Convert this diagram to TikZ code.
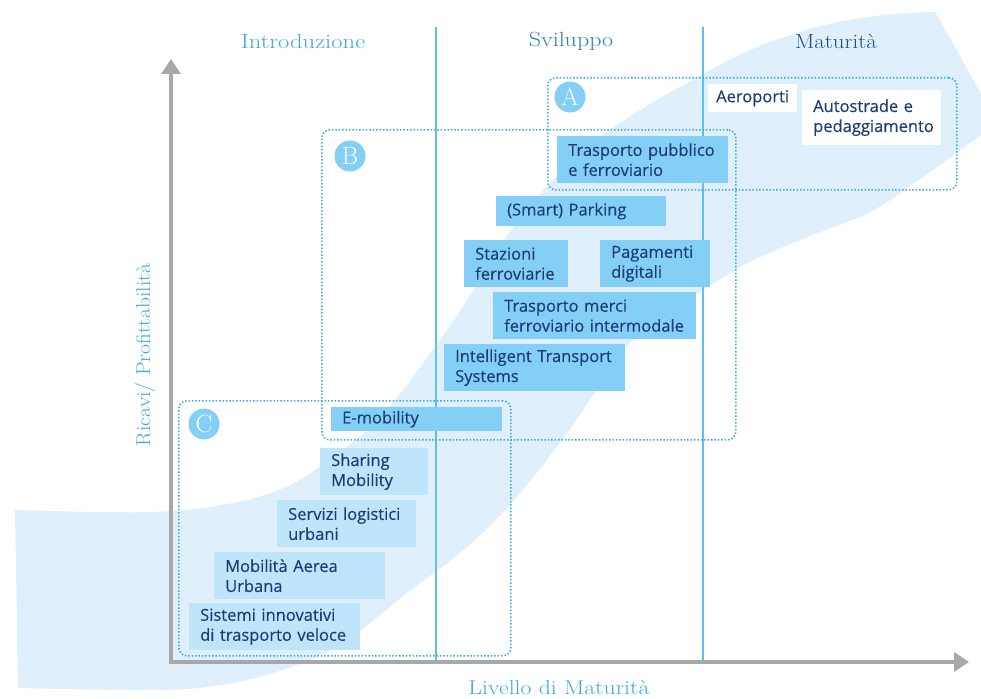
\documentclass[tikz,border=0pt]{standalone}
\usepackage{fontspec}
\usepackage{graphicx}
\usetikzlibrary{arrows.meta}
\newfontfamily\boxfont{Open Sans}[FakeBold=0.25]
\definecolor{bandc}{RGB}{223,240,252}
\definecolor{boxdark}{RGB}{131,207,245}
\definecolor{boxlight}{RGB}{190,229,249}
\definecolor{navy}{RGB}{28,60,120}
\definecolor{dotblue}{RGB}{58,170,225}
\definecolor{lineblue}{RGB}{100,190,235}
\definecolor{axisgray}{RGB}{166,168,171}
\definecolor{introc}{RGB}{60,170,225}
\definecolor{svilc}{RGB}{45,125,190}
\definecolor{matc}{RGB}{30,75,140}
\newcommand{\wideh}[2]{\scalebox{#1}[1]{#2}}
\tikzset{
  itembox/.style={anchor=north west, inner xsep=11pt, inner ysep=0pt, align=left,
    text=navy, font=\boxfont\fontsize{16.5}{20}\selectfont},
  darkbox/.style={itembox, fill=boxdark},
  lightbox/.style={itembox, fill=boxlight},
  whitebox/.style={itembox, fill=white},
  grp/.style={anchor=north west, draw=dotblue, line width=1.6pt,
    dash pattern=on 1.5pt off 1.9pt, rounded corners=8pt, inner sep=0pt},
  badge/.style={circle, fill=boxdark, text=white, minimum size=31pt, inner sep=0pt,
    font=\fontsize{25}{25}\selectfont},
  colline/.style={draw=lineblue, line width=1.3pt},
  axis/.style={draw=axisgray, line width=3.5pt,
    {Triangle[length=15pt,width=19pt]}-{Triangle[length=15pt,width=19pt]}},
  heading/.style={font=\fontsize{20.5}{20.5}\selectfont},
  axlabel/.style={text=introc, font=\fontsize{20}{20}\selectfont}
}
\begin{document}
\begin{tikzpicture}[x=1pt,y=-1pt]
\useasboundingbox (0,0) rectangle (981,698);
% background band
\begin{scope}
\clip (0,0) rectangle (981,698);
\fill[bandc] plot[smooth,tension=0.6] coordinates {(15,510) (150,512) (233,503) (290,485) (335,455) (380,418) (440,340) (480,280) (515,225) (555,178) (600,137) (650,104) (700,76) (750,50) (817,27) (883,15) (935,12)}
  -- (995,118)
  -- plot[smooth,tension=0.6] coordinates {(981,135) (923,177) (870,212) (805,238) (750,262) (700,292) (633,340) (600,385) (567,433) (517,497) (467,547) (407,593) (340,645) (273,673) (207,687) (140,690) (18,688)}
  -- cycle;
\end{scope}
% column separators
\coordinate (c1t) at (436,27); \coordinate (c1b) at (436,663);
\coordinate (c2t) at (703,27); \coordinate (c2b) at (703,663);
\draw[colline] (c1t) -- (c1b);
\draw[colline] (c2t) -- (c2b);
% axes
\coordinate (ytop) at (171,59);
\coordinate (orig) at (171,662);
\coordinate (xend) at (969,662);
\draw[axis] (ytop) -- (orig) -- (xend);
% headings
\node[heading, text=introc] (hIntro) at (303,41) {\wideh{1.2}{Introduzione}};
\node[heading, text=svilc] (hSvil) at (571,41) {\wideh{1.17}{Sviluppo}};
\node[heading, text=matc] (hMat) at (836,41) {\wideh{1.11}{Maturità}};
\node[axlabel, rotate=90] (ylab) at (145,355) {\wideh{1.08}{Ricavi/ Profittabilità}};
\node[axlabel] (xlab) at (559,688) {\wideh{1.19}{Livello di Maturità}};
% boxes
\node[whitebox, inner xsep=8pt, minimum height=28pt] (aero) at (708,84) {Aeroporti};
\node[whitebox, text width=117pt, minimum height=55pt] (auto) at (802,90) {Autostrade e\\pedaggiamento};
\node[darkbox, text width=149pt, minimum height=47pt] (tpub) at (557,136) {Trasporto pubblico\\e ferroviario};
\node[darkbox, text width=148pt, minimum height=30pt] (park) at (496,196) {(Smart) Parking};
\node[darkbox, text width=82pt, minimum height=47pt] (staz) at (464,240) {Stazioni\\ferroviarie};
\node[darkbox, text width=88pt, minimum height=47pt] (paga) at (600,240) {Pagamenti\\digitali};
\node[darkbox, text width=181pt, minimum height=47pt] (merci) at (493,292) {Trasporto merci\\ferroviario intermodale};
\node[darkbox, text width=159pt, minimum height=47pt] (its) at (444,344) {Intelligent Transport\\Systems};
\node[darkbox, text width=149pt, minimum height=24pt] (emob) at (331,407) {E-mobility};
\node[lightbox, text width=86pt, minimum height=47pt] (share) at (320,448) {Sharing\\Mobility};
\node[lightbox, text width=117pt, minimum height=47pt] (logi) at (277,500) {Servizi logistici\\urbani};
\node[lightbox, text width=149pt, minimum height=47pt] (aerea) at (214,552) {Mobilità Aerea\\Urbana};
\node[lightbox, text width=149pt, minimum height=47pt] (sist) at (189,603) {Sistemi innovativi\\di trasporto veloce};
% groups
\node[grp, minimum width=409pt, minimum height=112pt] (gA) at (547,77) {};
\node[grp, minimum width=414pt, minimum height=310pt] (gB) at (321,129) {};
\node[grp, minimum width=332pt, minimum height=255pt] (gC) at (178,400) {};
% badges
\node[badge] (bA) at (570,97) {A};
\node[badge] (bB) at (350,156) {B};
\node[badge] (bC) at (204,424) {C};
\end{tikzpicture}
\end{document}
